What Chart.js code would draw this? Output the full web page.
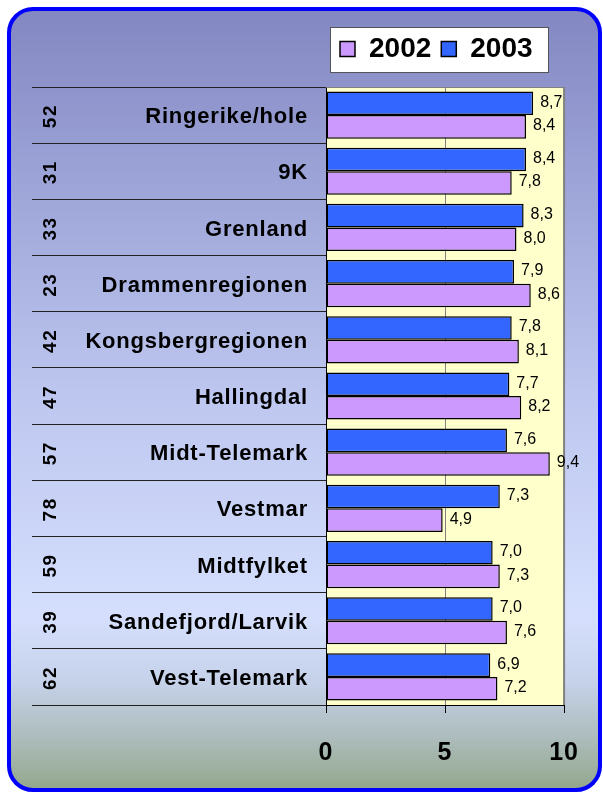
<!DOCTYPE html>
<html>
<head>
<meta charset="utf-8">
<script src="https://cdn.jsdelivr.net/npm/chart.js@4.4.1/dist/chart.umd.min.js"></script>
<style>
html,body{margin:0;padding:0;background:#ffffff;}
canvas{display:block;}
</style>
</head>
<body>
<canvas id="c" width="603" height="793"></canvas>
<script>
// ---- data ----
const categories = ["Ringerike/hole", "9K", "Grenland", "Drammenregionen", "Kongsbergregionen", "Hallingdal", "Midt-Telemark", "Vestmar", "Midtfylket", "Sandefjord/Larvik", "Vest-Telemark"];
const counts = [52, 31, 33, 23, 42, 47, 57, 78, 59, 39, 62];
const values2003 = [8.7, 8.4, 8.3, 7.9, 7.8, 7.7, 7.6, 7.3, 7.0, 7.0, 6.9];
const values2002 = [8.4, 7.8, 8.0, 8.6, 8.1, 8.2, 9.4, 4.9, 7.3, 7.6, 7.2];
const seriesLabels = ["2003", "2002"];
const xTicks = [0, 5, 10];

const FAMILY = '"Liberation Sans", Arial, sans-serif';
const fmt = v => v.toFixed(1).replace('.', ',');

const backgroundPlugin = {
  id: 'bg',
  beforeDraw(chart) {
    const ctx = chart.ctx;
    const W = chart.width, H = chart.height;
    ctx.save();
    ctx.fillStyle = '#ffffff';
    ctx.fillRect(0, 0, W, H);
    const g = ctx.createLinearGradient(0, 9, 0, 790);
    g.addColorStop(0.00, '#8387C2');
    g.addColorStop(0.25, '#A0A8DA');
    g.addColorStop(0.50, '#BEC7EF');
    g.addColorStop(0.78, '#D5DFFD');
    g.addColorStop(0.86, '#C6D2EA');
    g.addColorStop(0.93, '#AEBDBE');
    g.addColorStop(1.00, '#93A78B');
    ctx.beginPath();
    ctx.roundRect(9, 9, 591, 781, 24);
    ctx.fillStyle = g;
    ctx.fill();
    ctx.lineWidth = 4;
    ctx.strokeStyle = '#0000FF';
    ctx.stroke();
    // plot area fill
    const a = chart.chartArea;
    ctx.fillStyle = '#FFFFCC';
    ctx.fillRect(a.left, a.top, a.right - a.left, a.bottom - a.top);
    // legend box
    const L = chart.legend;
    ctx.fillStyle = '#ffffff';
    ctx.fillRect(L.left, L.top + 2, L.right - L.left, L.bottom - L.top - 2);
    ctx.strokeStyle = '#555555';
    ctx.lineWidth = 1;
    ctx.strokeRect(L.left + 0.5, L.top + 2.5, L.right - L.left - 1, L.bottom - L.top - 3);
    ctx.restore();
  },
  beforeDatasetsDraw(chart) {
    const ctx = chart.ctx, a = chart.chartArea;
    ctx.save();
    ctx.strokeStyle = '#808080';
    ctx.lineWidth = 1;
    ctx.beginPath();
    ctx.moveTo(a.left, a.top + 0.5);
    ctx.lineTo(a.right, a.top + 0.5);
    ctx.stroke();
    ctx.lineWidth = 2;
    ctx.beginPath();
    ctx.moveTo(a.right, a.top);
    ctx.lineTo(a.right, a.bottom);
    ctx.stroke();
    ctx.restore();
  }
};

const layoutPlugin = {
  id: 'legendPlace',
  afterLayout(chart) {
    const L = chart.legend;
    L.left = 330; L.right = 549; L.top = 25; L.bottom = 73;
    const ys = chart.scales.y;
    if (!ys._lsPatched) {
      const orig = ys.drawLabels;
      ys.drawLabels = function(area) {
        const ctx = this.ctx;
        ctx.save();
        ctx.letterSpacing = '0.8px';
        orig.call(this, area);
        ctx.restore();
      };
      ys._lsPatched = true;
    }
    const xs = chart.scales.x;
    if (!xs._lsPatched) {
      const origX = xs.drawLabels;
      xs.drawLabels = function(area) {
        const ctx = this.ctx;
        ctx.save();
        ctx.letterSpacing = '1px';
        origX.call(this, area);
        ctx.restore();
      };
      xs._lsPatched = true;
    }
  }
};

const labelsPlugin = {
  id: 'valueLabels',
  afterDatasetsDraw(chart) {
    const ctx = chart.ctx;
    ctx.save();
    ctx.fillStyle = '#000000';
    ctx.font = '16px ' + FAMILY;
    ctx.textAlign = 'left';
    ctx.textBaseline = 'middle';
    chart.data.datasets.forEach((ds, di) => {
      const meta = chart.getDatasetMeta(di);
      meta.data.forEach((bar, i) => {
        ctx.fillText(fmt(ds.data[i]), bar.x + 7, bar.y - 1);
      });
    });
    // rotated count labels
    const ys = chart.scales.y;
    ctx.font = 'bold 19px ' + FAMILY;
    ctx.letterSpacing = '1.5px';
    ctx.textAlign = 'center';
    counts.forEach((c, i) => {
      const y = ys.getPixelForValue(i);
      ctx.save();
      ctx.translate(51, y + 1);
      ctx.rotate(-Math.PI / 2);
      ctx.fillText(String(c), 0, 0);
      ctx.restore();
    });
    ctx.restore();
  }
};

new Chart(document.getElementById('c'), {
  type: 'bar',
  data: {
    labels: categories,
    datasets: [
      { label: seriesLabels[0], data: values2003, backgroundColor: '#3366FF', borderColor: '#000000', borderWidth: 1.5, borderSkipped: false },
      { label: seriesLabels[1], data: values2002, backgroundColor: '#CC99FF', borderColor: '#000000', borderWidth: 1.5, borderSkipped: false }
    ]
  },
  options: {
    indexAxis: 'y',
    responsive: false,
    animation: false,
    devicePixelRatio: 1,
    categoryPercentage: 0.84,
    barPercentage: 1.0,
    layout: { padding: { top: 39, right: 38, bottom: 0, left: 0 } },
    plugins: {
      legend: {
        position: 'top',
        align: 'start',
        reverse: true,
        labels: {
          boxWidth: 15, boxHeight: 15, padding: 10, color: '#000000',
          font: { family: FAMILY, size: 28, weight: 'bold' }
        }
      },
      tooltip: { enabled: false },
      title: { display: false }
    },
    scales: {
      x: {
        type: 'linear',
        min: 0, max: 10,
        afterBuildTicks(s) { s.ticks = xTicks.map(v => ({ value: v })); },
        afterFit(s) { s.height = 88; },
        grid: {
          color: '#808080',
          tickColor: '#000000',
          tickLength: 8,
          lineWidth: 1
        },
        border: { display: true, color: '#000000', width: 1 },
        ticks: {
          padding: 25, color: '#000000', maxRotation: 0,
          font: { family: FAMILY, size: 25, weight: 'bold' }
        }
      },
      y: {
        type: 'category',
        afterFit(s) { s.width = 326; },
        grid: {
          offset: true,
          drawOnChartArea: false,
          drawTicks: true,
          tickLength: 294,
          color: '#222222',
          lineWidth: 1
        },
        border: { display: true, color: '#000000', width: 1 },
        ticks: {
          padding: -276, color: '#000000', autoSkip: false, labelOffset: 2,
          font: { family: FAMILY, size: 22, weight: 'bold' }
        }
      }
    }
  },
  plugins: [backgroundPlugin, layoutPlugin, labelsPlugin]
});
</script>
</body>
</html>
